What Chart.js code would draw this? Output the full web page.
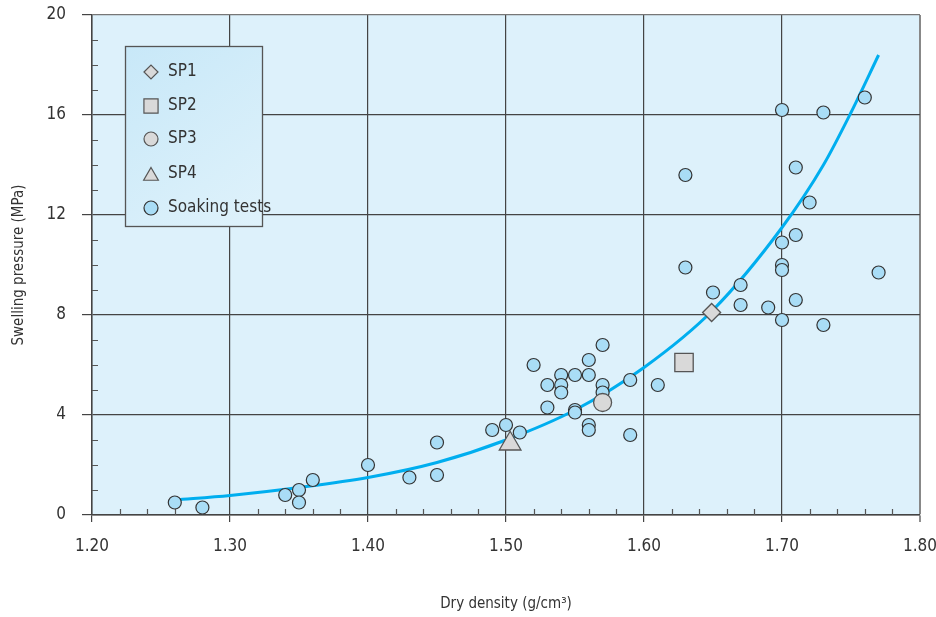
<!DOCTYPE html>
<html>
<head>
<meta charset="utf-8">
<script src="https://cdn.jsdelivr.net/npm/chart.js@4.4.1/dist/chart.umd.min.js"></script>
<style>
  body { margin: 0; background: #fff; }
  #wrap { width: 936px; height: 617px; }
</style>
</head>
<body>
<div id="wrap"><canvas id="myChart"></canvas></div>
<script>
// soaking tests (dry density g/cm3, swelling pressure MPa)
var soakDensity = [1.26, 1.28, 1.34, 1.35, 1.35, 1.36, 1.40, 1.43, 1.45, 1.45,
    1.49, 1.50, 1.51, 1.52, 1.53, 1.53, 1.54, 1.54, 1.54, 1.55,
    1.55, 1.55, 1.56, 1.56, 1.56, 1.56, 1.57, 1.57, 1.57, 1.59,
    1.59, 1.61, 1.63, 1.63, 1.65, 1.67, 1.67, 1.69, 1.70, 1.70,
    1.70, 1.70, 1.70, 1.71, 1.71, 1.71, 1.72, 1.73, 1.73, 1.76, 1.77];
var soakPressure = [0.5, 0.3, 0.8, 1.0, 0.5, 1.4, 2.0, 1.5, 2.9, 1.6,
    3.4, 3.6, 3.3, 6.0, 5.2, 4.3, 5.6, 5.2, 4.9, 5.6,
    4.2, 4.1, 6.2, 5.6, 3.6, 3.4, 6.8, 5.2, 4.9, 5.4,
    3.2, 5.2, 13.6, 9.9, 8.9, 9.2, 8.4, 8.3, 16.2, 10.9,
    10.0, 9.8, 7.8, 13.9, 11.2, 8.6, 12.5, 16.1, 7.6, 16.7, 9.7];

// SP specimens
var spNames = ["SP1", "SP2", "SP3", "SP4"];
var spDensity = [1.649, 1.629, 1.570, 1.503];
var spPressure = [8.1, 6.1, 4.5, 2.85];

// trend curve
var curveDensity = [1.26, 1.30, 1.35, 1.40, 1.45, 1.50, 1.55, 1.60, 1.65, 1.70, 1.73, 1.75, 1.77];
var curvePressure = [0.6, 0.78, 1.1, 1.5, 2.1, 3.0, 4.2, 5.9, 8.2, 11.5, 14.0, 16.1, 18.4];

var FONT = "'Liberation Sans Narrow', 'DejaVu Sans Condensed', 'Roboto', sans-serif";
var TEXT = "#333";
var spStyles = ["rectRot", "rect", "circle", "triangle"];
var spRadius = [9, 13, 9, 12.5];
var legendRadius = [7, 10, 7, 8.5, 7];

function pts(xs, ys) {
    return xs.map(function (x, i) { return { x: x, y: ys[i] }; });
}

var datasets = [];
for (var i = 0; i < spNames.length; i++) {
    datasets.push({
        label: spNames[i],
        data: [{ x: spDensity[i], y: spPressure[i] }],
        pointStyle: spStyles[i],
        pointRadius: spRadius[i],
        pointBackgroundColor: "#d9d9d9",
        pointBorderColor: "#555",
        pointBorderWidth: 1.3
    });
}
datasets.push({
    label: "Soaking tests",
    data: pts(soakDensity, soakPressure),
    pointStyle: "circle",
    pointRadius: 6.5,
    pointBackgroundColor: "#a9ddf6",
    pointBorderColor: "#333",
    pointBorderWidth: 1.2
});
datasets.push({
    type: "line",
    label: "fit",
    data: pts(curveDensity, curvePressure),
    showLine: true,
    borderColor: "#00aeef",
    borderWidth: 3,
    pointRadius: 0,
    cubicInterpolationMode: "monotone",
    fill: false
});

var areaPlugin = {
    id: "area",
    beforeDraw: function (chart) {
        var a = chart.chartArea, ctx = chart.ctx;
        ctx.save();
        ctx.fillStyle = "#ddf1fb";
        ctx.fillRect(a.left, a.top, a.right - a.left, a.bottom - a.top);
        ctx.restore();
    },
    beforeDatasetsDraw: function (chart) {
        var a = chart.chartArea, ctx = chart.ctx;
        var xs = chart.scales.x, ys = chart.scales.y;
        ctx.save();
        ctx.strokeStyle = "#555";
        ctx.lineWidth = 1.2;
        ctx.beginPath();
        for (var k = 1; k < 30; k++) {
            if (k % 5 === 0) continue;
            var px = Math.round(xs.getPixelForValue(1.2 + k * 0.02)) + 0.5;
            ctx.moveTo(px, a.bottom);
            ctx.lineTo(px, a.bottom - 6);
        }
        for (var m = 1; m < 20; m++) {
            if (m % 4 === 0) continue;
            var py = Math.round(ys.getPixelForValue(m)) + 0.5;
            ctx.moveTo(a.left, py);
            ctx.lineTo(a.left + 6, py);
        }
        ctx.stroke();
        ctx.restore();
    },
    afterDraw: function (chart) {
        var ctx = chart.ctx;
        var bx = 125.5, by = 46.5, bw = 137, bh = 180;
        ctx.save();
        var g = ctx.createLinearGradient(bx, by, bx + bw, by + bh);
        g.addColorStop(0, "#c8e8f8");
        g.addColorStop(1, "#dff2fb");
        ctx.fillStyle = g;
        ctx.fillRect(bx, by, bw, bh);
        ctx.strokeStyle = "#555";
        ctx.lineWidth = 1.3;
        ctx.strokeRect(bx, by, bw, bh);
        var rows = [72, 106, 139, 174, 208];
        var items = chart.data.datasets.slice(0, 5);
        ctx.font = "17px " + FONT;
        ctx.textBaseline = "middle";
        ctx.textAlign = "left";
        items.forEach(function (ds, j) {
            ctx.fillStyle = ds.pointBackgroundColor;
            ctx.strokeStyle = j < 4 ? "#555" : "#333";
            ctx.lineWidth = 1.2;
            Chart.helpers.drawPoint(ctx, {
                pointStyle: ds.pointStyle,
                radius: legendRadius[j],
                rotation: 0,
                borderWidth: 1.2
            }, 151, rows[j] + (j === 3 ? 2 : 0));
            ctx.fillStyle = TEXT;
            ctx.fillText(ds.label, 168, rows[j]);
        });
        ctx.restore();
    }
};

new Chart("myChart", {
    type: "scatter",
    data: { datasets: datasets },
    options: {
        responsive: true,
        maintainAspectRatio: false,
        animation: false,
        layout: { padding: { left: 0, top: 15, right: 16, bottom: 0 } },
        plugins: {
            legend: { display: false },
            tooltip: { enabled: false }
        },
        scales: {
            x: {
                type: "linear",
                min: 1.2,
                max: 1.8,
                afterFit: function (s) {
                    s.height = 102;
                    s.paddingLeft = 0;
                    s.paddingRight = 0;
                },
                ticks: {
                    stepSize: 0.1,
                    padding: 14,
                    color: TEXT,
                    font: { family: FONT, size: 17 },
                    callback: function (v) { return v.toFixed(2); }
                },
                grid: {
                    color: function (c) { return c.index === 6 ? "#888" : "#444"; },
                    lineWidth: function (c) { return c.index === 6 ? 2 : 1.2; },
                    tickLength: 7,
                    tickColor: "#444",
                    tickWidth: 1.2
                },
                border: { color: "#444", width: 1.5 },
                title: {
                    display: true,
                    text: "Dry density (g/cm\u00b3)",
                    color: TEXT,
                    font: { family: FONT, size: 15 },
                    padding: { top: 0, bottom: 4 }
                }
            },
            y: {
                type: "linear",
                min: 0,
                max: 20,
                afterFit: function (s) {
                    s.width = 92;
                    s.paddingTop = 0;
                    s.paddingBottom = 0;
                },
                ticks: {
                    stepSize: 4,
                    padding: 16,
                    color: TEXT,
                    font: { family: FONT, size: 17 }
                },
                grid: {
                    color: function (c) { return c.index === 5 ? "#777" : "#444"; },
                    tickLength: 10,
                    tickColor: "#444",
                    lineWidth: 1.2,
                    tickWidth: 1.2
                },
                border: { color: "#444", width: 1.5 },
                title: {
                    display: true,
                    text: "Swelling pressure (MPa)",
                    color: TEXT,
                    font: { family: FONT, size: 15 },
                    padding: { top: 10, bottom: 0 }
                }
            }
        }
    },
    plugins: [areaPlugin]
});
</script>
</body>
</html>
